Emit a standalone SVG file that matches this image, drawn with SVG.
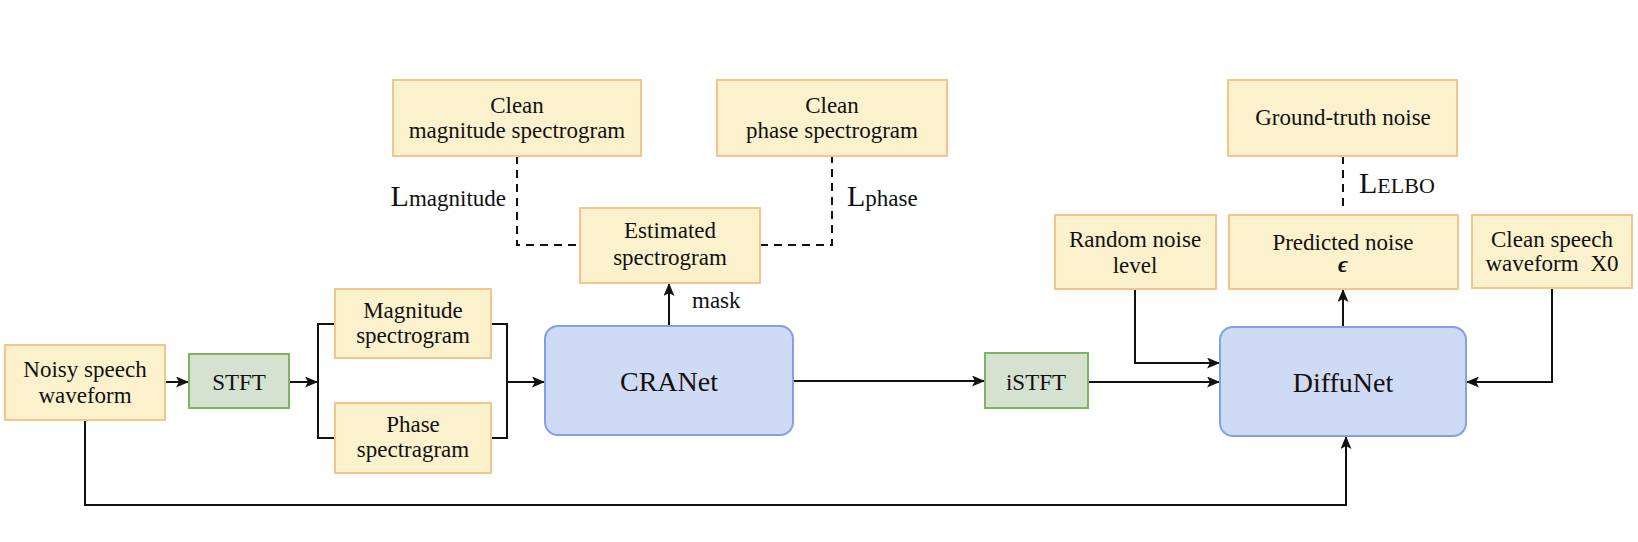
<svg xmlns="http://www.w3.org/2000/svg" width="1638" height="542" viewBox="0 0 1638 542" font-family="'Liberation Serif', 'DejaVu Serif', serif">
<defs>
<style>
.y{fill:#fcf1cd;stroke:#f1c58b;stroke-width:2}
.g{fill:#d4e2cf;stroke:#80b35f;stroke-width:2}
.b{fill:#cfdbf4;stroke:#7fa1e8;stroke-width:2}
text{font-family:'Liberation Serif','DejaVu Serif',serif;fill:#111;font-size:23px;text-anchor:middle}
.big{font-size:28px}
.ln{fill:none;stroke:#111;stroke-width:2}
.ds{fill:none;stroke:#111;stroke-width:2;stroke-dasharray:8 6}
</style>
<marker id="ah" markerWidth="13" markerHeight="11" refX="12" refY="5.5" orient="auto" markerUnits="userSpaceOnUse">
<path d="M0,0 L13,5.5 L0,11 L3,5.5 z" fill="#111"/>
</marker>
</defs>
<rect width="1638" height="542" fill="#fff"/>

<g id="connectors">
<path class="ln" d="M165,382 H188" marker-end="url(#ah)"/>
<path class="ln" d="M289,382 H317" marker-end="url(#ah)"/>
<path class="ln" d="M335,324 H318 V438 H335"/>
<path class="ln" d="M491,324 H507 V438 H491"/>
<path class="ln" d="M507,382 H544" marker-end="url(#ah)"/>
<path class="ln" d="M669,326 V284" marker-end="url(#ah)"/>
<path class="ds" d="M517,156 V245 H580"/>
<path class="ds" d="M760,245 H832 V156"/>
<path class="ln" d="M793,381 H984" marker-end="url(#ah)"/>
<path class="ln" d="M1088,382 H1219" marker-end="url(#ah)"/>
<path class="ln" d="M1135,289 V363 H1219" marker-end="url(#ah)"/>
<path class="ln" d="M1552,288 V382 H1467" marker-end="url(#ah)"/>
<path class="ln" d="M1343,327 V290" marker-end="url(#ah)"/>
<path class="ds" d="M1343,156 V208"/>
<path class="ln" d="M85,420 V505 H1346 V437" marker-end="url(#ah)"/>
<text x="692" y="308" style="text-anchor:start">mask</text>
<text x="506" y="206" style="text-anchor:end"><tspan font-size="30">L</tspan>magnitude</text>
<text x="847" y="206" style="text-anchor:start"><tspan font-size="30">L</tspan>phase</text>
<text x="1359" y="193" style="text-anchor:start"><tspan font-size="30">L</tspan><tspan font-size="22">ELBO</tspan></text>
</g>

<g id="noisy">
<rect class="y" x="5" y="345" width="160" height="75"/>
<text x="85" y="377">Noisy speech</text>
<text x="85" y="403">waveform</text>
</g>
<g id="stft">
<rect class="g" x="189" y="354" width="100" height="54"/>
<text x="239" y="390">STFT</text>
</g>
<g id="magnitude">
<rect class="y" x="335" y="289" width="156" height="69"/>
<text x="413" y="318">Magnitude</text>
<text x="413" y="343">spectrogram</text>
</g>
<g id="phase">
<rect class="y" x="335" y="403" width="156" height="70"/>
<text x="413" y="432">Phase</text>
<text x="413" y="457">spectragram</text>
</g>
<g id="cranet">
<rect class="b" x="545" y="326" width="248" height="109" rx="13"/>
<text class="big" x="669" y="391">CRANet</text>
</g>
<g id="estimated">
<rect class="y" x="580" y="208" width="180" height="75"/>
<text x="670" y="238">Estimated</text>
<text x="670" y="265">spectrogram</text>
</g>
<g id="cleanmag">
<rect class="y" x="393" y="80" width="248" height="76"/>
<text x="517" y="113">Clean</text>
<text x="517" y="138">magnitude spectrogram</text>
</g>
<g id="cleanphase">
<rect class="y" x="717" y="80" width="230" height="76"/>
<text x="832" y="113">Clean</text>
<text x="832" y="138">phase spectrogram</text>
</g>
<g id="istft">
<rect class="g" x="985" y="353" width="103" height="55"/>
<text x="1036" y="390">iSTFT</text>
</g>
<g id="diffunet">
<rect class="b" x="1220" y="327" width="246" height="109" rx="13"/>
<text class="big" x="1343" y="392">DiffuNet</text>
</g>
<g id="random">
<rect class="y" x="1055" y="215" width="161" height="74"/>
<text x="1135" y="247">Random noise</text>
<text x="1135" y="273">level</text>
</g>
<g id="predicted">
<rect class="y" x="1229" y="215" width="229" height="74"/>
<text x="1343" y="250">Predicted noise</text>
<text x="1343" y="272" font-weight="bold" font-style="italic" font-size="18">ϵ</text>
</g>
<g id="cleanspeech">
<rect class="y" x="1472" y="215" width="160" height="73"/>
<text x="1552" y="247">Clean speech</text>
<text x="1552" y="271">waveform <tspan dx="6">X0</tspan></text>
</g>
<g id="groundtruth">
<rect class="y" x="1228" y="80" width="229" height="76"/>
<text x="1343" y="125">Ground-truth noise</text>
</g>
</svg>
